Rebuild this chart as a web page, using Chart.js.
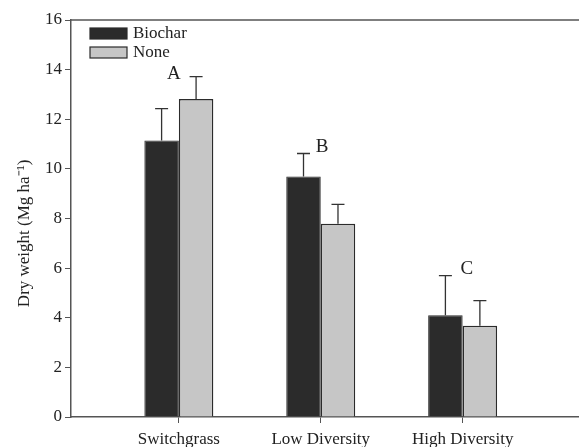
<!DOCTYPE html>
<html>
<head>
<meta charset="utf-8">
<script src="https://cdn.jsdelivr.net/npm/chart.js@4"></script>
<style>
  html, body { margin: 0; padding: 0; background: #fff; }
  #wrap { width: 579px; height: 447px; position: relative; }
</style>
</head>
<body>
<div id="wrap"><canvas id="dryChart"></canvas></div>
<script>
// Données
const categories = ['Switchgrass', 'Low Diversity', 'High Diversity'];
const catPos = [1, 2, 3];
const biochar = [11.14, 9.69, 4.10];
const biocharErr = [1.29, 0.93, 1.60];
const none = [12.82, 7.79, 3.68];
const noneErr = [0.90, 0.78, 1.01];
const yTicks = [0, 2, 4, 6, 8, 10, 12, 14, 16];
// lettres de signification (x, y en unités des axes)
const letters = ['A', 'B', 'C'];
const letterX = [0.965, 2.01, 3.03];
const letterY = [13.83, 10.9, 5.97];

const serif = "'Liberation Serif', 'Times New Roman', serif";
const axisColor = '#555';

function toPoints(vals) {
    return vals.map((v, i) => ({ x: catPos[i], y: v }));
}

// Barres d'erreur, lettres, légende et bordure du haut
const extras = {
    id: 'extras',
    afterDatasetsDraw(chart) {
        const ctx = chart.ctx;
        const x = chart.scales.x, y = chart.scales.y;
        const errs = [biocharErr, noneErr];
        ctx.save();
        ctx.strokeStyle = '#333';
        ctx.lineWidth = 1.3;
        chart.data.datasets.forEach((ds, di) => {
            chart.getDatasetMeta(di).data.forEach((bar, i) => {
                const top = y.getPixelForValue(ds.data[i].y + errs[di][i]);
                ctx.beginPath();
                ctx.moveTo(bar.x, bar.y);
                ctx.lineTo(bar.x, top);
                ctx.moveTo(bar.x - 6.5, top);
                ctx.lineTo(bar.x + 6.5, top);
                ctx.stroke();
            });
        });

        ctx.fillStyle = '#222';
        ctx.font = '19px ' + serif;
        ctx.textAlign = 'center';
        ctx.textBaseline = 'middle';
        letters.forEach((t, i) => {
            ctx.fillText(t, x.getPixelForValue(letterX[i]), y.getPixelForValue(letterY[i]));
        });

        // légende
        const lx = 90, ly = 28;
        ctx.textAlign = 'left';
        ctx.font = '17px ' + serif;
        chart.data.datasets.forEach((ds, di) => {
            const yy = ly + di * 19;
            ctx.fillStyle = ds.backgroundColor;
            ctx.fillRect(lx, yy, 37, 11);
            ctx.strokeStyle = '#2b2b2b';
            ctx.lineWidth = 1.2;
            ctx.strokeRect(lx, yy, 37, 11);
            ctx.fillStyle = '#222';
            ctx.fillText(ds.label, lx + 43, yy + 6);
        });

        // bordure du haut
        const a = chart.chartArea;
        ctx.strokeStyle = axisColor;
        ctx.lineWidth = 1.5;
        ctx.beginPath();
        ctx.moveTo(a.left, a.top);
        ctx.lineTo(a.right, a.top);
        ctx.stroke();
        ctx.restore();
    }
};

const ctx = document.getElementById('dryChart').getContext('2d');
const dryChart = new Chart(ctx, {
    type: 'bar',
    data: {
        datasets: [{
            label: 'Biochar',
            data: toPoints(biochar),
            backgroundColor: '#2b2b2b',
            borderColor: '#2b2b2b',
            borderWidth: 1
        }, {
            label: 'None',
            data: toPoints(none),
            backgroundColor: '#c6c6c6',
            borderColor: '#2b2b2b',
            borderWidth: 1.5
        }]
    },
    options: {
        responsive: true,
        maintainAspectRatio: false,
        animation: false,
        layout: { padding: { top: 20, left: 0, right: 0, bottom: 0 } },
        datasets: {
            bar: { categoryPercentage: 0.486, barPercentage: 1, grouped: true }
        },
        plugins: {
            legend: { display: false },
            tooltip: { enabled: false }
        },
        scales: {
            x: {
                type: 'linear',
                offset: false,
                min: 0.24,
                max: 3.82,
                afterBuildTicks(scale) {
                    scale.ticks = catPos.map(v => ({ value: v }));
                },
                afterFit(scale) { scale.height = 30; },
                grid: {
                    display: true,
                    offset: false,
                    drawOnChartArea: false,
                    drawTicks: true,
                    tickLength: 6,
                    color: axisColor
                },
                border: { display: true, color: axisColor, width: 1.5 },
                ticks: {
                    autoSkip: false,
                    maxRotation: 0,
                    padding: 6,
                    color: '#222',
                    font: { family: serif, size: 17 },
                    callback: (v) => categories[catPos.indexOf(v)] || ''
                }
            },
            y: {
                min: 0,
                max: 16,
                afterBuildTicks(scale) {
                    scale.ticks = yTicks.map(v => ({ value: v }));
                },
                afterFit(scale) { scale.width = 71; },
                grid: {
                    display: true,
                    drawOnChartArea: false,
                    drawTicks: true,
                    tickLength: 6,
                    color: axisColor
                },
                border: { display: true, color: axisColor, width: 1.5 },
                ticks: {
                    padding: 3,
                    color: '#222',
                    font: { family: serif, size: 17 }
                },
                title: {
                    display: true,
                    text: 'Dry weight (Mg ha\u207B\u00B9)' + '\u00A0'.repeat(7),
                    color: '#222',
                    font: { family: serif, size: 17 },
                    padding: { top: 14, bottom: 0 }
                }
            }
        }
    },
    plugins: [extras]
});
</script>
</body>
</html>
